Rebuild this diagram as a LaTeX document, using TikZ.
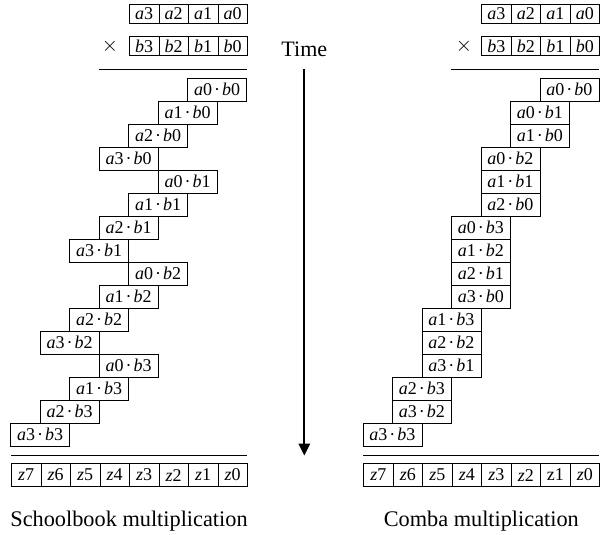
\documentclass[tikz,border=0pt]{standalone}
\usepackage{fontspec}
\setmainfont{Liberation Serif}
\usetikzlibrary{arrows.meta}
\newcommand\ab[2]{\textit{a}#1\kern0.11em·\kern0.11em\textit{b}#2}
\begin{document}
\begin{tikzpicture}[x=1pt,y=-1pt,
  lbl/.style={font=\fontsize{18}{20}\selectfont},
  cell/.style={draw, line width=0.8pt, inner sep=0pt, minimum width=29.5pt, minimum height=19pt, lbl, anchor=north west},
  zcell/.style={cell, minimum height=22.7pt},
  prod/.style={draw, line width=0.8pt, inner sep=0pt, minimum width=59pt, minimum height=23pt, lbl, anchor=north east},
  rule/.style={line width=0.9pt},
  times/.style={font=\fontsize{21}{24}\selectfont},
  caption/.style={font=\fontsize{22.3}{26}\selectfont, anchor=base}]
\useasboundingbox (0,0) rectangle (603,535);

% ---------- Schoolbook (left) ----------
\foreach \i in {0,...,3}{
  \node[cell] (aL\i) at ({247-29.5*(\i+1)},4) {\textit{a}\i};
  \node[cell] (bL\i) at ({247-29.5*(\i+1)},36.5) {\textit{b}\i};
}
\node[times] (xL) at (110,46) {$\times$};
\coordinate (l1a) at (99,69);
\coordinate (l1b) at (247,69);
\draw[rule] (l1a) -- (l1b);
\foreach \j in {0,...,3}{
  \foreach \k in {0,...,3}{
    \node[prod] (pL\k\j) at ({247-29.5*(\k+\j)},{77.7+23*(4*\j+\k)}) {\ab{\k}{\j}};
  }
}
\coordinate (l2a) at (11,455.7);
\coordinate (l2b) at (247,455.7);
\draw[rule] (l2a) -- (l2b);
\foreach \m in {0,...,7}{
  \pgfmathtruncatemacro\zi{7-\m}
  \node[zcell] (zL\zi) at ({11+29.5*\m},463.3) {\textit{z}\zi};
}
\node[caption] (capL) at (129,526) {Schoolbook multiplication};

% ---------- Time arrow ----------
\node[font=\fontsize{22}{26}\selectfont, anchor=base] (time) at (304.3,56.5) {Time};
\coordinate (t0) at (304.3,69);
\coordinate (t1) at (304.3,455.5);
\draw[line width=1.8pt, -{Triangle[width=11.5pt,length=12pt]}] (t0) -- (t1);

% ---------- Comba (right) ----------
\foreach \i in {0,...,3}{
  \node[cell] (aR\i) at ({599.3-29.5*(\i+1)},4) {\textit{a}\i};
  \node[cell] (bR\i) at ({599.3-29.5*(\i+1)},36.5) {\textit{b}\i};
}
\node[times] (xR) at (464,46) {$\times$};
\coordinate (r1a) at (451.3,69);
\coordinate (r1b) at (599.3,69);
\draw[rule] (r1a) -- (r1b);
\foreach \k/\j [count=\n from 0] in {0/0,0/1,1/0,0/2,1/1,2/0,0/3,1/2,2/1,3/0,1/3,2/2,3/1,2/3,3/2,3/3}{
  \node[prod] (pR\k\j) at ({599.3-29.5*(\k+\j)},{77.7+23*\n}) {\ab{\k}{\j}};
}
\coordinate (r2a) at (363.3,455.7);
\coordinate (r2b) at (599.3,455.7);
\draw[rule] (r2a) -- (r2b);
\foreach \m in {0,...,7}{
  \pgfmathtruncatemacro\zi{7-\m}
  \ifnum\zi=1
    \node[zcell] (zR\zi) at ({363.3+29.5*\m},463.3) {z1};
  \else
    \node[zcell] (zR\zi) at ({363.3+29.5*\m},463.3) {\textit{z}\zi};
  \fi
}
\node[caption] (capR) at (481.3,526) {Comba multiplication};
\end{tikzpicture}
\end{document}
